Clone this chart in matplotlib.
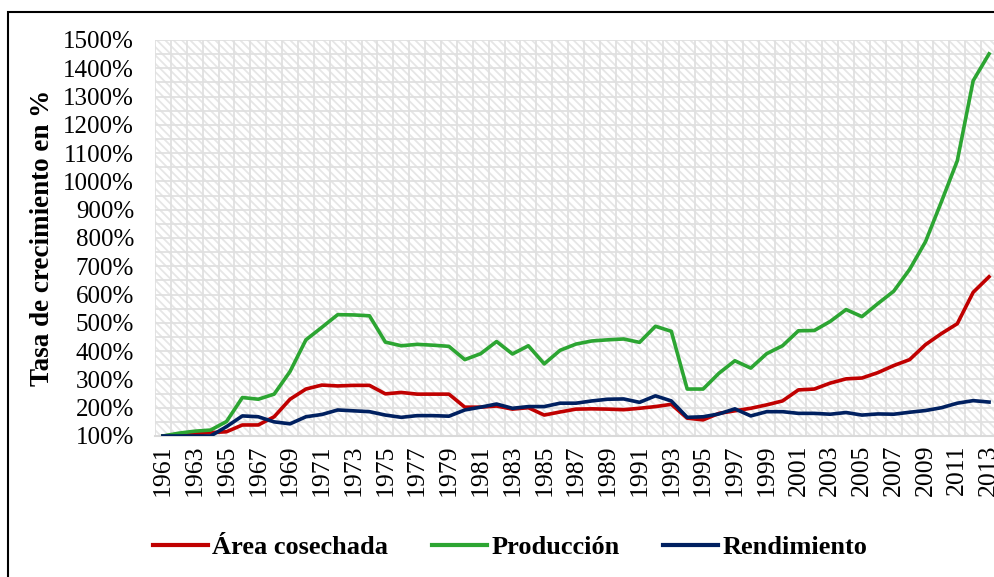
import numpy as np
import matplotlib
matplotlib.use("Agg")
import matplotlib.pyplot as plt
from matplotlib.patches import Rectangle
from matplotlib.lines import Line2D

# Data (growth rate, % relative to 1961 = 100%)
years = list(range(1961, 2014))

area = [100, 104, 108, 112, 115, 139, 139, 168, 230, 266,
        280, 277, 279, 279, 249, 254, 248, 248, 248, 202,
        202, 206, 195, 200, 174, 185, 195, 196, 195, 193,
        198, 204, 212, 163, 157, 180, 189, 198, 210, 224,
        263, 266, 287, 302, 305, 324, 349, 370, 423, 462,
        497, 608, 663]

produccion = [100, 110, 117, 121, 151, 236, 230, 248, 328, 440,
              484, 529, 528, 525, 432, 419, 424, 421, 417, 370,
              391, 434, 390, 419, 355, 403, 425, 436, 440, 443,
              431, 488, 470, 266, 266, 322, 366, 340, 391, 419,
              472, 473, 505, 547, 522, 568, 612, 689, 787, 928,
              1073, 1356, 1451]

rendimiento = [100, 100, 100, 100, 133, 171, 168, 150, 143, 168,
               176, 192, 189, 186, 174, 166, 172, 172, 170, 192,
               202, 213, 198, 204, 204, 216, 216, 224, 230, 231,
               219, 242, 224, 166, 168, 178, 196, 171, 186, 186,
               180, 180, 177, 183, 174, 178, 177, 184, 190, 200,
               216, 225, 220]

series_names = ["Área cosechada", "Producción", "Rendimiento"]
series_colors = ["#C00000", "#2CA532", "#002060"]

plt.rcParams["font.family"] = ["Liberation Serif", "DejaVu Serif"]
plt.rcParams["hatch.linewidth"] = 1.3

fig = plt.figure(figsize=(9.95, 5.77), dpi=100)
W, H = 995, 577

# outer frame (runs off the right and bottom edges, as in the original)
fig.patches.append(Rectangle((8 / W, -0.01), 1.05, (577 - 12) / H + 0.01,
                             transform=fig.transFigure, fill=False,
                             edgecolor="black", linewidth=1.5))

ax = fig.add_axes([155 / W, 1 - 436 / H, (997 - 155) / W, (436 - 40) / H])
x = np.arange(len(years))

# hatched plot-area background
ax.add_patch(Rectangle((0, 0), 1, 1, transform=ax.transAxes, facecolor="white",
                       edgecolor="#e6e6e6", hatch="\\\\\\\\", linewidth=0, zorder=0))

for xv in x:
    ax.axvline(xv - 0.5, color="#e0e0e0", linewidth=1.3, zorder=1)
for yv in np.arange(150, 1501, 50):
    ax.axhline(yv, color="#e0e0e0", linewidth=1.3, zorder=1)

for vals, col in zip([area, produccion, rendimiento], series_colors):
    ax.plot(x, vals, color=col, linewidth=2.6, zorder=3)

ax.set_xlim(-0.5, len(years) - 0.5)
ax.set_ylim(100, 1500)

ax.set_yticks(np.arange(100, 1501, 100))
ax.set_yticklabels([f"{v}%" for v in range(100, 1501, 100)], fontsize=18)
ax.set_xticks(x[::2])
ax.set_xticklabels([str(y) for y in years[::2]], rotation=90, fontsize=18.5)
ax.tick_params(axis="y", length=0, pad=15)
ax.tick_params(axis="x", length=0, pad=6)

for s in ["top", "right", "left"]:
    ax.spines[s].set_visible(False)
ax.spines["bottom"].set_color("#d9d9d9")
ax.spines["bottom"].set_linewidth(1.5)

ax.set_ylabel("Tasa de crecimiento en %", fontsize=19.5, fontweight="bold", labelpad=6)

handles = [Line2D([0], [0], color=c, linewidth=3) for c in series_colors]
fig.legend(handles, series_names, loc="center", bbox_to_anchor=(510 / W, 1 - 547 / H),
           ncol=3, frameon=False, prop={"weight": "bold", "size": 19},
           handlelength=2.1, handletextpad=0.15, columnspacing=1.65)

fig.savefig("out.png", dpi=100)
